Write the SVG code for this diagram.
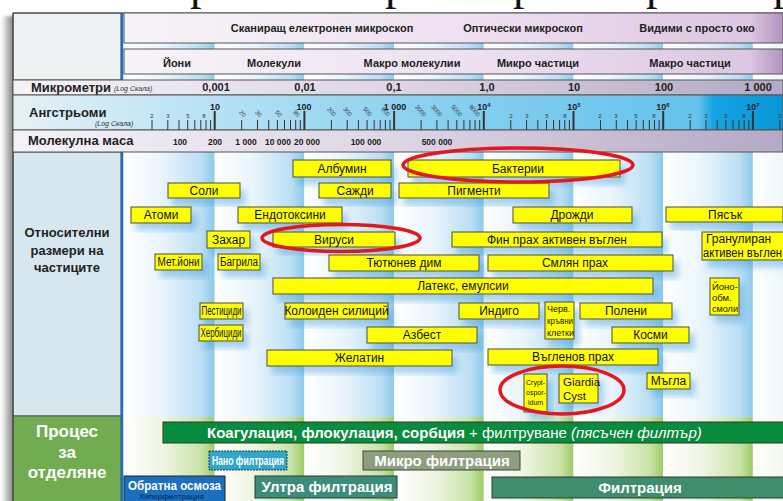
<svg xmlns="http://www.w3.org/2000/svg" width="783" height="501" viewBox="0 0 783 501">
<defs>
<linearGradient id="colBlue" x1="0" y1="0" x2="1" y2="0">
<stop offset="0" stop-color="#ffffff"/><stop offset="0.45" stop-color="#e8f4fc"/><stop offset="0.85" stop-color="#bbdff4"/><stop offset="1" stop-color="#8ccaec"/>
</linearGradient>
<linearGradient id="colGreen" x1="0" y1="0" x2="1" y2="0">
<stop offset="0" stop-color="#ffffff"/><stop offset="0.45" stop-color="#eef5e2"/><stop offset="0.85" stop-color="#c9e3a6"/><stop offset="1" stop-color="#9dcc66"/>
</linearGradient>
<linearGradient id="hdr" x1="0" y1="0" x2="1" y2="0">
<stop offset="0" stop-color="#f7f4f8"/><stop offset="0.55" stop-color="#eddff0"/><stop offset="0.95" stop-color="#dcc6e2"/><stop offset="1" stop-color="#b392c0"/>
</linearGradient>
<linearGradient id="lav" x1="0" y1="0" x2="1" y2="0">
<stop offset="0" stop-color="#f5f3f7"/><stop offset="0.5" stop-color="#ddd5e4"/><stop offset="1" stop-color="#b3a9c4"/>
</linearGradient>
<linearGradient id="ang" x1="0" y1="0" x2="1" y2="0">
<stop offset="0" stop-color="#e6f1f6"/><stop offset="0.18" stop-color="#c4e6f6"/><stop offset="0.5" stop-color="#8fd2f0"/><stop offset="0.89" stop-color="#64c2ec"/><stop offset="0.91" stop-color="#16a3e2"/><stop offset="1" stop-color="#0896d6"/>
</linearGradient>
<linearGradient id="shadowG" x1="0" y1="0" x2="1" y2="0">
<stop offset="0" stop-color="#ffffff"/><stop offset="1" stop-color="#7a7a7a"/>
</linearGradient>
<filter id="sh" x="-20%" y="-30%" width="150%" height="190%">
<feDropShadow dx="5" dy="7" stdDeviation="3" flood-color="#4aa0dc" flood-opacity="0.45"/>
</filter>
<filter id="blur2"><feGaussianBlur stdDeviation="1.5"/></filter>
<style>
.b{fill:#ffff00;stroke:#4d4d3d;stroke-width:1;filter:url(#sh)}
.t{font-family:"Liberation Sans",Arial,sans-serif;font-size:12px;fill:#111;text-anchor:middle}
.ts{font-family:"Liberation Sans",Arial,sans-serif;fill:#111}
.hb{font-family:"Liberation Sans",Arial,sans-serif;font-weight:bold;font-size:11px;fill:#222;text-anchor:middle}
.lb{font-family:"Liberation Sans",Arial,sans-serif;font-weight:bold;font-size:13px;fill:#222}
.it{font-family:"Liberation Sans",Arial,sans-serif;font-style:italic;font-size:7px;fill:#333}
.mj{font-family:"Liberation Sans",Arial,sans-serif;font-weight:bold;font-size:9px;fill:#222;text-anchor:middle}
.mn{font-family:"Liberation Sans",Arial,sans-serif;font-size:6px;fill:#333;text-anchor:middle}
.mm{font-family:"Liberation Sans",Arial,sans-serif;font-weight:bold;font-size:8.5px;fill:#222;text-anchor:middle}
.ring{fill:none;stroke:#e3171c;stroke-width:3.5}
.pw{font-family:"Liberation Sans",Arial,sans-serif;font-weight:bold;fill:#fff}
.row{stroke:#555;stroke-width:1}
</style>
</defs>

<!-- page background and shadow -->
<rect x="0" y="0" width="783" height="501" fill="#ffffff"/>
<rect x="1" y="16" width="13" height="490" fill="url(#shadowG)" filter="url(#blur2)"/>
<text font-family="'Liberation Serif',serif" font-size="46" fill="#111" y="-1"><tspan x="190">р</tspan><tspan x="385">р</tspan><tspan x="513">р</tspan><tspan x="646">р</tspan><tspan x="773">р</tspan></text>

<!-- chart background columns -->
<g id="chart-bg">
<rect x="122" y="13" width="92.7" height="404" fill="url(#colBlue)"/>
<rect x="214.7" y="13" width="89.7" height="404" fill="url(#colBlue)"/>
<rect x="304.4" y="13" width="89.7" height="404" fill="url(#colBlue)"/>
<rect x="394.1" y="13" width="89.7" height="404" fill="url(#colBlue)"/>
<rect x="483.8" y="13" width="89.7" height="404" fill="url(#colBlue)"/>
<rect x="573.5" y="13" width="89.7" height="404" fill="url(#colBlue)"/>
<rect x="663.2" y="13" width="89.7" height="404" fill="url(#colBlue)"/>
<rect x="752.9" y="13" width="89.7" height="404" fill="url(#colBlue)"/>
<rect x="122" y="417" width="92.7" height="84" fill="url(#colGreen)"/>
<rect x="214.7" y="417" width="89.7" height="84" fill="url(#colGreen)"/>
<rect x="304.4" y="417" width="89.7" height="84" fill="url(#colGreen)"/>
<rect x="394.1" y="417" width="89.7" height="84" fill="url(#colGreen)"/>
<rect x="483.8" y="417" width="89.7" height="84" fill="url(#colGreen)"/>
<rect x="573.5" y="417" width="89.7" height="84" fill="url(#colGreen)"/>
<rect x="663.2" y="417" width="89.7" height="84" fill="url(#colGreen)"/>
<rect x="752.9" y="417" width="89.7" height="84" fill="url(#colGreen)"/>
</g>

<!-- left panels -->
<g id="left-panels">
<rect x="13" y="13" width="108" height="67" fill="#eef0f2" class="row"/>
<rect x="13" y="152" width="108" height="264" fill="#d7e7ef" class="row"/>
<rect x="13" y="416" width="108" height="90" fill="#72ac50" class="row"/>
<text class="lb" font-size="15" text-anchor="middle"><tspan x="67" y="237">Относителни</tspan><tspan x="67" y="255">размери на</tspan><tspan x="67" y="272">частиците</tspan></text>
<text class="pw" font-size="17" text-anchor="middle"><tspan x="67" y="437">Процес</tspan><tspan x="67" y="458">за</tspan><tspan x="67" y="478">отделяне</tspan></text>
<line x1="122" y1="13" x2="122" y2="501" stroke="#1f6fc2" stroke-width="2.5"/>
<line x1="13" y1="13" x2="783" y2="13" stroke="#444" stroke-width="1.2"/>
<line x1="13" y1="13" x2="13" y2="501" stroke="#444" stroke-width="1.2"/>
</g>

<!-- header rows -->
<g id="header">
<rect x="124" y="13" width="659" height="30" fill="url(#hdr)" class="row"/>
<text class="hb" x="322" y="32">Сканиращ електронен микроскоп</text>
<text class="hb" x="523" y="32">Оптически микроскоп</text>
<text class="hb" x="697" y="32">Видими с просто око</text>
<rect x="124" y="49" width="659" height="25" fill="url(#hdr)" class="row"/>
<text class="hb" x="177" y="67">Йони</text>
<text class="hb" x="274" y="67">Молекули</text>
<text class="hb" x="412" y="67">Макро молекулии</text>
<text class="hb" x="538" y="67">Микро частици</text>
<text class="hb" x="690" y="67">Макро частици</text>
</g>

<!-- scale rows -->
<g id="scales">
<rect x="13" y="80" width="770" height="15" fill="url(#lav)" class="row"/>
<text class="lb" font-size="12.5" x="31" y="92">Микрометри</text>
<text class="it" x="114" y="91">(Log Скала)</text>
<text class="hb" x="216" y="91">0,001</text>
<text class="hb" x="305" y="91">0,01</text>
<text class="hb" x="394" y="91">0,1</text>
<text class="hb" x="487" y="91">1,0</text>
<text class="hb" x="574" y="91">10</text>
<text class="hb" x="664" y="91">100</text>
<text class="hb" x="758" y="91">1 000</text>

<rect x="13" y="95" width="770" height="35" fill="url(#ang)" class="row"/>
<text class="lb" x="29" y="117">Ангстрьоми</text>
<text class="it" x="95" y="126">(Log Скала)</text>
<path stroke="#333" stroke-width="1" fill="none" d="M152 120V130M167.8 120V130M179 120V130M187.7 120V130M194.8 120V130M200.8 120V130M206 120V130M210.6 120V130
M241.7 120V130M257.5 120V130M268.7 120V130M277.4 120V130M284.5 120V130M290.5 120V130M295.7 120V130M300.3 120V130
M331.4 120V130M347.2 120V130M358.4 120V130M367.1 120V130M374.2 120V130M380.2 120V130M385.4 120V130M390 120V130
M421.1 120V130M436.9 120V130M448.1 120V130M456.8 120V130M463.9 120V130M469.9 120V130M475.1 120V130M479.7 120V130
M510.8 120V130M526.6 120V130M537.8 120V130M546.5 120V130M553.6 120V130M559.6 120V130M564.8 120V130M569.4 120V130
M600.5 120V130M616.3 120V130M627.5 120V130M636.2 120V130M643.3 120V130M649.3 120V130M654.5 120V130M659.1 120V130
M690.2 120V130M706 120V130M717.2 120V130M725.9 120V130M733 120V130M739 120V130M744.2 120V130M748.8 120V130
M779.9 120V130"/>
<path stroke="#333" stroke-width="2" fill="none" d="M214.7 111V130M304.4 111V130M394.1 111V130M483.8 111V130M573.5 111V130M663.2 111V130M752.9 111V130"/>
<text class="mj" x="215" y="110">10</text>
<text class="mj" x="304" y="110">100</text>
<text class="mj" x="395" y="110">1 000</text>
<text class="mj" x="484" y="110">10<tspan font-size="6" dy="-3">4</tspan></text>
<text class="mj" x="574" y="110">10<tspan font-size="6" dy="-3">5</tspan></text>
<text class="mj" x="663" y="110">10<tspan font-size="6" dy="-3">6</tspan></text>
<text class="mj" x="753" y="110">10<tspan font-size="6" dy="-3">7</tspan></text>
<g class="mn">
<text x="152" y="118">2</text><text x="168" y="118">3</text><text x="188" y="118">5</text><text x="204" y="118">8</text>
<text x="511" y="118">2</text><text x="527" y="118">3</text><text x="547" y="118">5</text><text x="565" y="118">8</text>
<text x="600" y="118">2</text><text x="616" y="118">3</text><text x="636" y="118">5</text><text x="654" y="118">8</text>
<text x="690" y="118">2</text><text x="706" y="118">3</text><text x="726" y="118">5</text><text x="744" y="118">8</text>
<text x="780" y="118">2</text>
<text transform="translate(241,115) rotate(50)">20</text>
<text transform="translate(257,115) rotate(50)">30</text>
<text transform="translate(277,115) rotate(50)">50</text>
<text transform="translate(295,115) rotate(50)">80</text>
<text transform="translate(330,113) rotate(50)">200</text>
<text transform="translate(346,113) rotate(50)">300</text>
<text transform="translate(366,113) rotate(50)">500</text>
<text transform="translate(384,113) rotate(50)">800</text>
<text transform="translate(419,112) rotate(50)">2000</text>
<text transform="translate(435,112) rotate(50)">3000</text>
<text transform="translate(455,112) rotate(50)">5000</text>
<text transform="translate(473,112) rotate(50)">8000</text>
</g>

<rect x="13" y="130" width="770" height="22" fill="url(#lav)" class="row"/>
<text class="lb" x="28" y="145">Молекулна маса</text>
<text class="mm" x="180" y="145">100</text>
<text class="mm" x="215" y="145">200</text>
<text class="mm" x="246" y="145">1 000</text>
<text class="mm" x="278" y="145">10 000</text>
<text class="mm" x="307" y="145">20 000</text>
<text class="mm" x="366" y="145">100 000</text>
<text class="mm" x="437" y="145">500 000</text>
</g>

<!-- particle nodes -->
<g id="albumin"><rect class="b" x="293" y="160" width="98" height="17"/><text class="t" x="342" y="172.5">Албумин</text></g>
<g id="bacteria"><rect class="b" x="408" y="160" width="212" height="17"/><text class="t" x="518" y="172.5">Бактерии</text></g>
<g id="salts"><rect class="b" x="168" y="183" width="72" height="15"/><text class="t" x="204" y="194.5">Соли</text></g>
<g id="soot"><rect class="b" x="319" y="183" width="72" height="15"/><text class="t" x="355" y="194.5">Сажди</text></g>
<g id="pigments"><rect class="b" x="399" y="183" width="150" height="15"/><text class="t" x="474" y="194.5">Пигменти</text></g>
<g id="atoms"><rect class="b" x="131" y="207" width="60" height="16"/><text class="t" x="161" y="219">Атоми</text></g>
<g id="endotoxins"><rect class="b" x="238" y="207" width="104" height="16"/><text class="t" x="290" y="219">Ендотоксини</text></g>
<g id="yeast"><rect class="b" x="513" y="207" width="119" height="16"/><text class="t" x="572" y="219">Дрожди</text></g>
<g id="sand"><rect class="b" x="666" y="207" width="117" height="15"/><text class="t" x="725" y="218.5">Пясък</text></g>
<g id="sugar"><rect class="b" x="207" y="231" width="43" height="17"/><text class="t" x="228.5" y="243.5">Захар</text></g>
<g id="viruses"><rect class="b" x="273" y="232" width="122" height="15"/><text class="t" x="334" y="243.5">Вируси</text></g>
<g id="fine-carbon"><rect class="b" x="452" y="232" width="210" height="15"/><text class="t" x="557" y="243.5">Фин прах активен въглен</text></g>
<g id="granular-carbon"><rect class="b" x="702" y="232" width="84" height="28"/><text class="ts" font-size="12"><tspan x="706" y="243">Гранулиран</tspan><tspan x="703" y="257" textLength="79" lengthAdjust="spacingAndGlyphs">активен въглен</tspan></text></g>
<g id="metal-ions"><rect class="b" x="155" y="254" width="47" height="16"/><text class="t" font-size="11" x="178.5" y="266" textLength="42" lengthAdjust="spacingAndGlyphs">Мет.йони</text></g>
<g id="dyes"><rect class="b" x="218" y="254" width="42" height="16"/><text class="t" font-size="11" x="239" y="266" textLength="38" lengthAdjust="spacingAndGlyphs">Багрила</text></g>
<g id="tobacco-smoke"><rect class="b" x="329" y="255" width="150" height="16"/><text class="t" x="404" y="267">Тютюнев дим</text></g>
<g id="ground-dust"><rect class="b" x="488" y="255" width="185" height="16"/><text class="t" x="575" y="267">Смлян прах</text></g>
<g id="latex"><rect class="b" x="273" y="278" width="380" height="16"/><text class="t" x="463" y="290">Латекс, емулсии</text></g>
<g id="ion-resins"><rect class="b" x="710" y="278" width="29" height="37"/><text class="ts" font-size="9.5"><tspan x="712" y="290">Йоно-</tspan><tspan x="712" y="301">обм.</tspan><tspan x="712" y="312" textLength="26" lengthAdjust="spacingAndGlyphs">смоли</tspan></text></g>
<g id="pesticides"><rect class="b" x="200" y="303" width="43" height="16"/><text class="t" font-size="10" x="221.5" y="314.5" textLength="40" lengthAdjust="spacingAndGlyphs">Пестициди</text></g>
<g id="colloidal-silica"><rect class="b" x="285" y="303" width="103" height="16"/><text class="t" x="336.5" y="315">Колоиден силиций</text></g>
<g id="indigo"><rect class="b" x="459" y="303" width="80" height="16"/><text class="t" x="499" y="315">Индиго</text></g>
<g id="red-blood-cells"><rect class="b" x="545" y="302" width="29" height="37"/><text class="ts" font-size="9"><tspan x="547" y="312">Черв.</tspan><tspan x="547" y="324" textLength="26" lengthAdjust="spacingAndGlyphs">кръвни</tspan><tspan x="547" y="336">клетки</tspan></text></g>
<g id="pollen"><rect class="b" x="580" y="303" width="92" height="16"/><text class="t" x="626" y="315">Полени</text></g>
<g id="herbicides"><rect class="b" x="199" y="325" width="44" height="16"/><text class="t" font-size="10" x="221" y="336.5" textLength="41" lengthAdjust="spacingAndGlyphs">Хербициди</text></g>
<g id="asbestos"><rect class="b" x="367" y="327" width="110" height="16"/><text class="t" x="422" y="339">Азбест</text></g>
<g id="hair"><rect class="b" x="612" y="327" width="77" height="16"/><text class="t" x="650.5" y="339">Косми</text></g>
<g id="gelatin"><rect class="b" x="267" y="350" width="185" height="16"/><text class="t" x="359.5" y="362">Желатин</text></g>
<g id="coal-dust"><rect class="b" x="488" y="349" width="170" height="16"/><text class="t" x="573" y="361">Въгленов прах</text></g>
<g id="mist"><rect class="b" x="647" y="373" width="43" height="16"/><text class="t" x="668.5" y="385">Мъгла</text></g>
<g id="cryptosporidium"><rect class="b" x="524" y="374" width="23" height="38"/><text class="ts" font-size="7"><tspan x="526" y="385">Crypt-</tspan><tspan x="526" y="395">ospor-</tspan><tspan x="528" y="405">idum</tspan></text></g>
<g id="giardia"><rect class="b" x="559" y="374" width="39" height="29"/><text class="ts" font-size="11.5"><tspan x="563" y="386">Giardia</tspan><tspan x="563" y="400">Cyst</tspan></text></g>

<!-- separation processes -->
<g id="coagulation"><rect x="163" y="422" width="625" height="21" fill="#078b3d" stroke="#2d3d2d" stroke-width="1"/>
<text font-family="'Liberation Sans',Arial,sans-serif" font-size="15" fill="#fff" x="207" y="438"><tspan font-weight="bold">Коагулация, флокулация, сорбция</tspan> + филтруване <tspan font-style="italic">(пясъчен филтър)</tspan></text></g>
<g id="nanofiltration"><rect x="209" y="451" width="78" height="19" fill="#31a6cb" stroke="#2a3a4a" stroke-width="1" stroke-dasharray="2 1"/><text class="pw" font-weight="normal" font-size="12" x="212" y="465" textLength="72" lengthAdjust="spacingAndGlyphs">Нано филтрация</text></g>
<g id="microfiltration"><rect x="363" y="451" width="157" height="19" fill="#8e9e7e" stroke="#3a4a3a" stroke-width="1"/><text class="pw" font-size="15" text-anchor="middle" x="442" y="466">Микро филтрация</text></g>
<g id="reverse-osmosis"><rect x="124" y="476" width="101" height="27" fill="#1a70bf" stroke="#223" stroke-width="1"/><text class="pw" font-size="13" x="128" y="490" textLength="93" lengthAdjust="spacingAndGlyphs">Обратна осмоза</text><text font-family="'Liberation Sans',Arial,sans-serif" font-size="7" fill="#102040" x="139" y="499" textLength="65" lengthAdjust="spacingAndGlyphs">Хиперфилтрация</text></g>
<g id="ultrafiltration"><rect x="255" y="476" width="142" height="22" fill="#3d8c7a" stroke="#2a3a3a" stroke-width="1"/><text class="pw" font-size="15" text-anchor="middle" x="327" y="492">Ултра филтрация</text></g>
<g id="filtration"><rect x="492" y="477" width="296" height="21" fill="#3f8d6c" stroke="#2a3a3a" stroke-width="1"/><text class="pw" font-size="15" text-anchor="middle" x="640" y="493">Филтрация</text></g>

<g id="connectors"></g>

<!-- highlight rings -->
<g id="highlights">
<ellipse class="ring" cx="518" cy="165" rx="115" ry="17"/>
<ellipse class="ring" cx="341" cy="238" rx="79" ry="13.5"/>
<ellipse class="ring" cx="562" cy="390" rx="62" ry="24"/>
</g>
</svg>
